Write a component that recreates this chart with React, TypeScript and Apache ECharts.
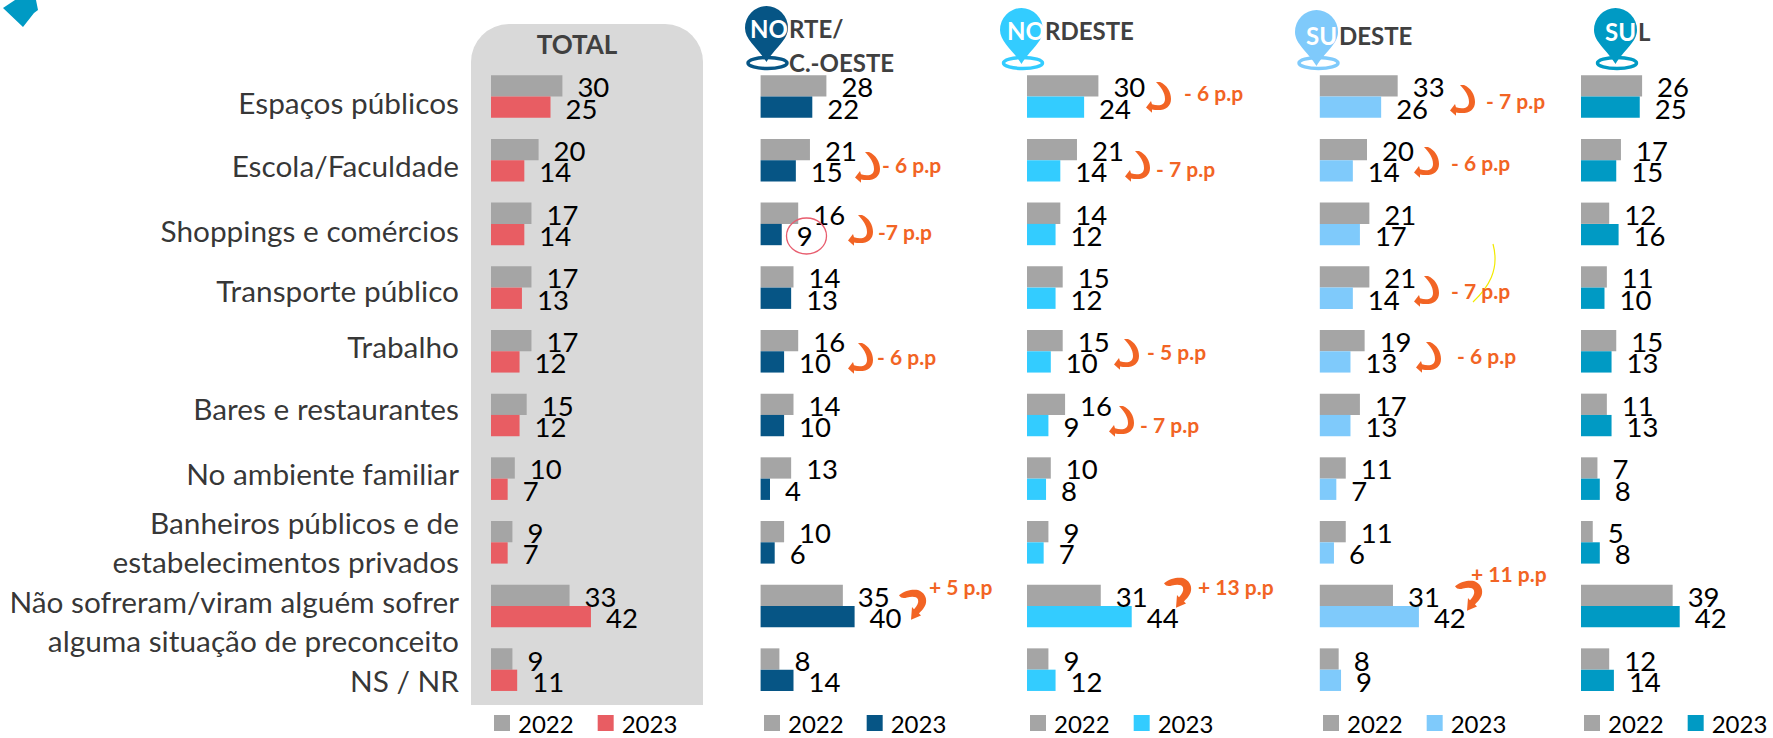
import React, { useEffect, useRef } from "react";
import * as echarts from "echarts";

const categories = [
  "Espaços públicos",
  "Escola/Faculdade",
  "Shoppings e comércios",
  "Transporte público",
  "Trabalho",
  "Bares e restaurantes",
  "No ambiente familiar",
  "Banheiros públicos e de\nestabelecimentos privados",
  "Não sofreram/viram alguém sofrer\nalguma situação de preconceito",
  "NS / NR",
];

const total2022 = [30, 20, 17, 17, 17, 15, 10, 9, 33, 9];
const total2023 = [25, 14, 14, 13, 12, 12, 7, 7, 42, 11];
const norte2022 = [28, 21, 16, 14, 16, 14, 13, 10, 35, 8];
const norte2023 = [22, 15, 9, 13, 10, 10, 4, 6, 40, 14];
const nordeste2022 = [30, 21, 14, 15, 15, 16, 10, 9, 31, 9];
const nordeste2023 = [24, 14, 12, 12, 10, 9, 8, 7, 44, 12];
const sudeste2022 = [33, 20, 21, 21, 19, 17, 11, 11, 31, 8];
const sudeste2023 = [26, 14, 17, 14, 13, 13, 7, 6, 42, 9];
const sul2022 = [26, 17, 12, 11, 15, 11, 7, 5, 39, 12];
const sul2023 = [25, 15, 16, 10, 13, 13, 8, 8, 42, 14];

const years = ["2022", "2023"];
const GRAY = "#A5A5A5";
const FONT = "Lato";
const ORANGE = "#F26424";
const DARK = "#404040";

const panels = [
  { a: total2022, b: total2023, color: "#E85D63", left: 491, scale: 2.38, legend: 494, gap: 24 },
  { a: norte2022, b: norte2023, color: "#065585", left: 760.6, scale: 2.35, legend: 764, gap: 23 },
  { a: nordeste2022, b: nordeste2023, color: "#33CCFF", left: 1027, scale: 2.38, legend: 1030, gap: 24 },
  { a: sudeste2022, b: sudeste2023, color: "#7FCAFB", left: 1319.8, scale: 2.36, legend: 1323, gap: 24 },
  { a: sul2022, b: sul2023, color: "#009AC4", left: 1581, scale: 2.35, legend: 1584, gap: 24 },
];

const labelShift = [5.5, 5.5, 6.5, 2.5, -4.5, -6.5, -5.5, 0, 15.5, 10.5];

const notes = [
  { t: "- 6 p.p", ax: 855, ay: 152, tx: 882, ty: 164, up: false },
  { t: "-7 p.p", ax: 848, ay: 215, tx: 878, ty: 231, up: false },
  { t: "- 6 p.p", ax: 848, ay: 343, tx: 877, ty: 356, up: false },
  { t: "- 6 p.p", ax: 1146, ay: 82, tx: 1184, ty: 92, up: false },
  { t: "- 7 p.p", ax: 1125, ay: 151, tx: 1156, ty: 168, up: false },
  { t: "- 5 p.p", ax: 1114, ay: 339, tx: 1147, ty: 351, up: false },
  { t: "- 7 p.p", ax: 1109, ay: 406, tx: 1140, ty: 424, up: false },
  { t: "- 7 p.p", ax: 1450, ay: 85, tx: 1486, ty: 100, up: false },
  { t: "- 6 p.p", ax: 1414, ay: 147, tx: 1451, ty: 162, up: false },
  { t: "- 7 p.p", ax: 1414, ay: 276, tx: 1451, ty: 290, up: false },
  { t: "- 6 p.p", ax: 1416, ay: 342, tx: 1457, ty: 355, up: false },
  { t: "+ 5 p.p", ax: 899, ay: 589, tx: 929, ty: 586, up: true },
  { t: "+ 13 p.p", ax: 1164, ay: 577, tx: 1198, ty: 586, up: true },
  { t: "+ 11 p.p", ax: 1455, ay: 580, tx: 1471, ty: 573, up: true },
];

const heads = [
  { color: "#065585", px: 745, py: 6, rx: 767.5, sw: "NO", sx: 750, sy: 28, restX: 789, restY: 28, rest: "RTE/", rest2: "C.-OESTE" },
  { color: "#33CCFF", px: 1000, py: 8, rx: 1023, sw: "NO", sx: 1007, sy: 30, restX: 1045, restY: 30, rest: "RDESTE", rest2: "" },
  { color: "#7FCAFB", px: 1295, py: 10, rx: 1318.5, sw: "SU", sx: 1306, sy: 35, restX: 1339, restY: 35, rest: "DESTE", rest2: "" },
  { color: "#009AC4", px: 1594, py: 8, rx: 1617, sw: "SU", sx: 1605, sy: 31, restX: 1638, restY: 31, rest: "L", rest2: "" },
];

echarts.graphic.registerShape(
  "arrowDown",
  echarts.graphic.extendPath(
    "M10 0 L14 0 C21 3 25 9 25 16 C25 24 18 28 6 26 L6 29 L0 24 L5 18 L6 21 C13 23 19 22 19 16 C19 10 15 5 10 0 Z",
    {}
  )
);
echarts.graphic.registerShape(
  "arrowUp",
  echarts.graphic.extendPath(
    "M0 6 C6 1 14 0 19 1 C25 3 28 8 27 13 C26 18 22 21 20 23 L22 25 L12 29 L13 17 L15 19 C18 16 20 13 19 10 C18 7 13 7 8 8 C5 9 2 9 0 6 Z",
    {}
  )
);
echarts.graphic.registerShape(
  "pin",
  echarts.graphic.extendPath(
    "M0 22 A21.5 22 0 0 1 43 22 C43 34 30 42 21.5 56 C13 42 0 34 0 22 Z",
    {}
  )
);

function txt(text: string, x: number, y: number, fill: string, fontSize: number, weight = "bold", align = "left", z = 20) {
  return {
    type: "text",
    x,
    y,
    z,
    style: { text, fill, fontSize, fontWeight: weight, fontFamily: FONT, align, textAlign: align, verticalAlign: "middle", textVerticalAlign: "middle" },
  };
}

function buildGraphic() {
  const out: any[] = [];
  out.push({
    type: "rect",
    z: -10,
    shape: { x: 471, y: 24, width: 232, height: 681, r: [38, 38, 0, 0] },
    style: { fill: "#D9D9D9" },
  });
  out.push(txt("TOTAL", 577, 44, DARK, 26, "bold", "center"));
  out.push({
    type: "polygon",
    shape: { points: [[3, 8], [15, 0], [36, 0], [38, 10], [34, 13], [23, 27]] },
    style: { fill: "#009AC4" },
  });
  heads.forEach((h) => {
    out.push({ type: "pin", x: h.px, y: h.py, z: 10, style: { fill: h.color } });
    out.push({
      type: "ellipse",
      z: 9,
      shape: { cx: h.rx, cy: 63, rx: 19.5, ry: 5.5 },
      style: { fill: "#fff", stroke: h.color, lineWidth: 3.5 },
    });
    out.push(txt(h.sw, h.sx, h.sy, "#fff", 24));
    out.push(txt(h.rest, h.restX, h.restY, DARK, 24));
    if (h.rest2) out.push(txt(h.rest2, h.restX, 62, DARK, 24));
  });
  notes.forEach((n) => {
    out.push({
      type: n.up ? "arrowUp" : "arrowDown",
      x: n.ax,
      y: n.ay,
      scaleY: 1.06,
      z: 15,
      style: { fill: ORANGE },
    });
    out.push(txt(n.t, n.tx, n.ty, ORANGE, 21));
  });
  out.push({
    type: "ellipse",
    z: 15,
    shape: { cx: 806.5, cy: 236, rx: 20, ry: 18 },
    style: { fill: "none", stroke: "#E85D6E", lineWidth: 1.3 },
  });
  out.push({
    type: "bezierCurve",
    z: 15,
    shape: { x1: 1493, y1: 244, cpx1: 1500, cpy1: 270, cpx2: 1488, cpy2: 288, x2: 1473, y2: 302 },
    style: { fill: "none", stroke: "#F2EA00", lineWidth: 1.2 },
  });
  return out;
}

function buildOption() {
  const label = {
    show: true,
    position: "right",
    distance: 15,
    offset: [0, 1],
    color: "#000",
    fontSize: 27.5,
    fontFamily: FONT,
  };
  const rowLabels = {
    type: "scatter",
    name: "categorias",
    xAxisIndex: 0,
    yAxisIndex: 0,
    symbolSize: 0,
    silent: true,
    data: categories.map((_, i) => ({
      value: [0, i],
      label: { offset: [-32, labelShift[i]] },
    })),
    label: {
      show: true,
      position: "left",
      distance: 0,
      align: "right",
      verticalAlign: "middle",
      color: "#000",
      fontSize: 29.8,
      lineHeight: 39,
      fontFamily: FONT,
      formatter: (p: any) => categories[p.dataIndex],
    },
  };
  return {
    animation: false,
    backgroundColor: "#fff",
    grid: panels.map((p) => ({
      left: p.left,
      top: 64.7,
      width: 50 * p.scale,
      height: 636.8,
      containLabel: false,
    })),
    xAxis: panels.map((_, i) => ({ type: "value", gridIndex: i, min: 0, max: 50, show: false })),
    yAxis: panels.map((_, i) => ({
      type: "category",
      gridIndex: i,
      inverse: true,
      data: categories,
      show: false,
      axisLine: { show: false },
      axisTick: { show: false },
      axisLabel: { show: false },
      splitLine: { show: false },
    })),
    legend: panels.map((p) => ({
      left: p.legend,
      top: 711,
      orient: "horizontal",
      itemWidth: 16,
      itemHeight: 16,
      itemGap: p.gap,
      padding: 0,
      selectedMode: false,
      icon: "rect",
      textStyle: { fontSize: 24, fontFamily: FONT, color: "#000", padding: [0, 0, 0, 3] },
      data: [
        { name: years[0], itemStyle: { color: GRAY } },
        { name: years[1], itemStyle: { color: p.color } },
      ],
    })),
    series: [
      ...panels.flatMap((p, i) => [
        {
          type: "bar",
          name: years[0],
          xAxisIndex: i,
          yAxisIndex: i,
          barWidth: 21.3,
          barGap: 0,
          data: p.a,
          itemStyle: { color: GRAY },
          label,
        },
        {
          type: "bar",
          name: years[1],
          xAxisIndex: i,
          yAxisIndex: i,
          barWidth: 21.3,
          barGap: 0,
          data: p.b,
          itemStyle: { color: p.color },
          label,
        },
      ]),
      rowLabels,
    ],
    graphic: buildGraphic(),
  };
}

export default function App() {
  const ref = useRef<HTMLDivElement>(null);
  useEffect(() => {
    document.body.style.margin = "0";
    document.body.style.overflow = "hidden";
    const chart = echarts.init(ref.current!, undefined, { renderer: "svg" });
    chart.setOption(buildOption() as any);
    return () => chart.dispose();
  }, []);
  return <div ref={ref} style={{ width: 1773, height: 738 }} />;
}
